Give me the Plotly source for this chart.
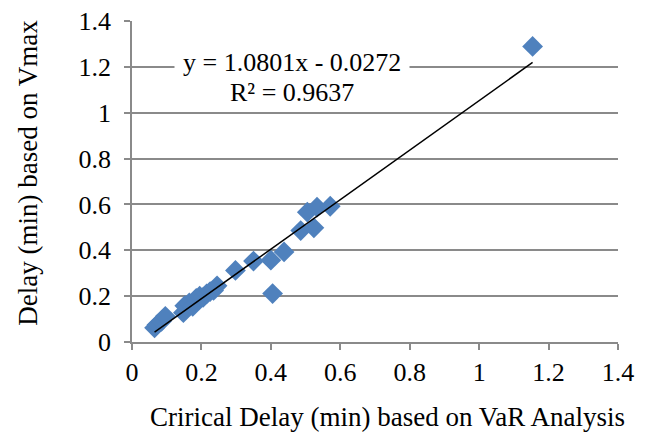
import plotly.graph_objects as go

# Data
var_delay = [0.065, 0.072, 0.085, 0.096, 0.148, 0.152, 0.165, 0.175, 0.185, 0.195,
             0.205, 0.215, 0.225, 0.235, 0.245, 0.298, 0.350, 0.400, 0.405, 0.438,
             0.486, 0.505, 0.524, 0.533, 0.571, 1.154]
vmax_delay = [0.062, 0.075, 0.090, 0.112, 0.128, 0.158, 0.170, 0.155, 0.190, 0.200,
              0.195, 0.210, 0.220, 0.225, 0.245, 0.312, 0.353, 0.357, 0.211, 0.393,
              0.486, 0.566, 0.498, 0.588, 0.592, 1.289]

slope = 1.0801
intercept = -0.0272
r_squared = 0.9637

x_ticks = [0, 0.2, 0.4, 0.6, 0.8, 1, 1.2, 1.4]
y_ticks = [0, 0.2, 0.4, 0.6, 0.8, 1, 1.2, 1.4]

FONT = "Liberation Serif"
GRID = "#8a8a8a"

x0, x1 = min(var_delay), max(var_delay)
trend_x = [x0, x1]
trend_y = [slope * v + intercept for v in trend_x]

fig = go.Figure()
fig.add_trace(go.Scatter(
    x=var_delay, y=vmax_delay, mode="markers",
    marker=dict(symbol="diamond", size=16, color="#4F81BD", line=dict(width=0)),
    showlegend=False, hoverinfo="x+y"))
fig.add_trace(go.Scatter(
    x=trend_x, y=trend_y, mode="lines",
    line=dict(color="black", width=1.5), showlegend=False))

fig.update_layout(
    width=648, height=434,
    margin=dict(l=132, r=30, t=21, b=92),
    paper_bgcolor="white", plot_bgcolor="white",
    font=dict(family=FONT, size=26, color="black"),
    xaxis=dict(range=[0, 1.4], tickvals=x_ticks, ticktext=[f"{v:g}" for v in x_ticks],
               showgrid=False, zeroline=False, showline=True, linecolor=GRID, linewidth=1.5,
               ticks="outside", ticklen=6, tickcolor=GRID, tickwidth=1.5, automargin=False,
               tickfont=dict(family=FONT, size=26), ticklabelstandoff=0),
    yaxis=dict(range=[0, 1.4], tickvals=y_ticks, ticktext=[f"{v:g}" for v in y_ticks],
               showgrid=True, gridcolor=GRID, gridwidth=1.5, zeroline=False,
               showline=True, linecolor=GRID, linewidth=1.5, automargin=False,
               ticks="outside", ticklen=6, tickcolor=GRID, tickwidth=1.5,
               tickfont=dict(family=FONT, size=26), ticklabelstandoff=8),
)

fig.add_annotation(x=0.462, y=1.22, xref="x", yref="y",
                   text=f"y = {slope:.4f}x - {abs(intercept):.4f}",
                   xanchor="center", yanchor="middle",
                   showarrow=False, bgcolor="white", borderpad=8,
                   font=dict(family=FONT, size=26))
fig.add_annotation(x=0.462, y=1.089, xref="x", yref="y",
                   text=f"R² = {r_squared:.4f}",
                   xanchor="center", yanchor="middle",
                   showarrow=False, font=dict(family=FONT, size=26))

fig.add_annotation(x=0.526, y=-0.233, xref="paper", yref="paper",
                   text="Crirical Delay (min) based on VaR Analysis",
                   xanchor="center", yanchor="middle",
                   showarrow=False, font=dict(family=FONT, size=27))
fig.add_annotation(x=-0.213, y=0.529, xref="paper", yref="paper",
                   text="Delay (min) based on Vmax", textangle=-90,
                   xanchor="center", yanchor="middle",
                   showarrow=False, font=dict(family=FONT, size=27))

fig.write_html("out.html")
